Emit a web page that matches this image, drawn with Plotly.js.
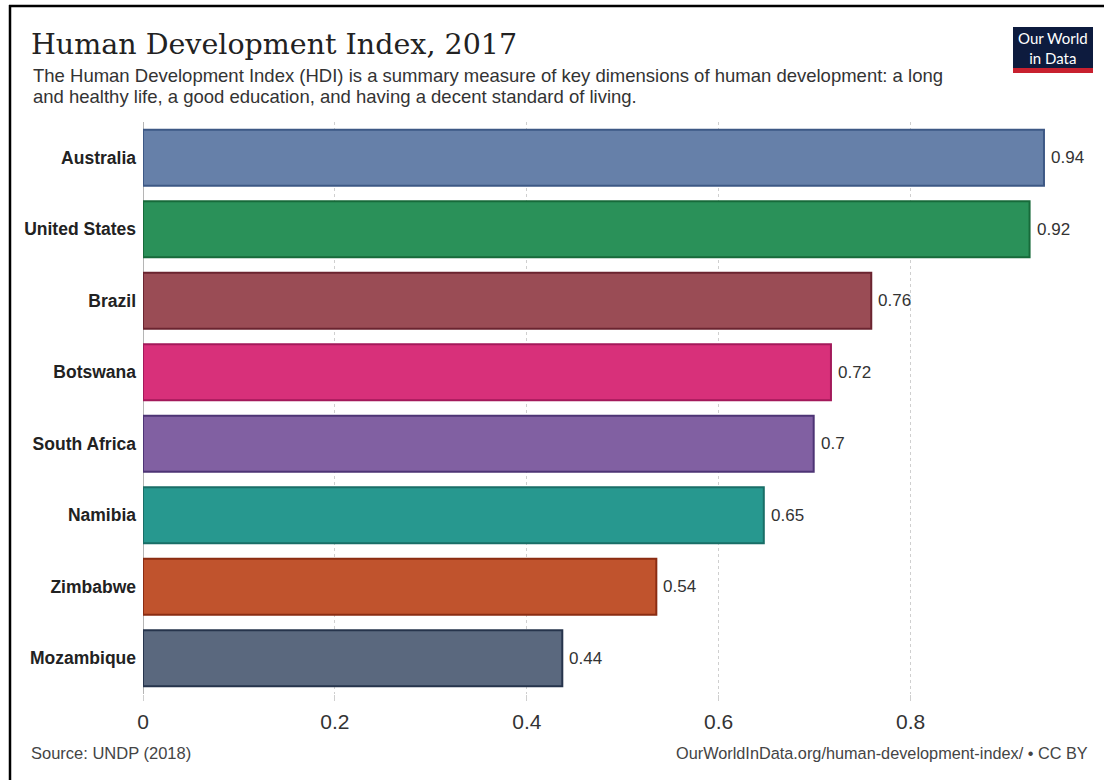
<!DOCTYPE html>
<html>
<head>
<meta charset="utf-8">
<script src="https://cdn.plot.ly/plotly-3.0.1.min.js"></script>
<style>html,body{margin:0;padding:0;background:#fff;}#chart{width:1104px;height:780px;}</style>
</head>
<body>
<div id="chart"></div>
<script>
const countries = ["Australia","United States","Brazil","Botswana","South Africa","Namibia","Zimbabwe","Mozambique"];
const hdi = [0.939,0.924,0.759,0.717,0.699,0.647,0.535,0.437];
const valueLabels = ["0.94","0.92","0.76","0.72","0.7","0.65","0.54","0.44"];
const fillColors = ["#6680a9","#2a9159","#9a4c55","#d8307a","#8160a2","#27988f","#c0532d","#5a687e"];
const lineColors = ["#3d5885","#176a3a","#6b2430","#a3195a","#4d3475","#196e67","#8a2c12","#26344c"];
const xTickVals = [0,0.2,0.4,0.6,0.8];
const xTickText = ["0","0.2","0.4","0.6","0.8"];
const subtitleLines = [
  "The Human Development Index (HDI) is a summary measure of key dimensions of human development: a long",
  "and healthy life, a good education, and having a decent standard of living."
];

// layout geometry (pixels)
const W = 1104, H = 780, mL = 143, mR = 11, mT = 122, mB = 86;
const pw = W - mL - mR, ph = H - mT - mB;
const px = x => (x - mL) / pw;
const py = y => (H - mB - y) / ph;
const sans = "Liberation Sans, Arial, sans-serif";

const trace = {
  type: "bar",
  orientation: "h",
  y: countries,
  x: hdi,
  marker: {color: fillColors, line: {color: lineColors, width: 2}},
  hoverinfo: "none"
};

const annotations = countries.map((c, i) => ({
  x: hdi[i], y: c, xref: "x", yref: "y",
  text: valueLabels[i], showarrow: false,
  xanchor: "left", yanchor: "middle", xshift: 5,
  font: {family: sans, size: 17, color: "#333"}
}));

subtitleLines.forEach((t, i) => annotations.push({
  xref: "paper", yref: "paper", x: px(31), y: py(75 + 21 * i),
  xanchor: "left", yanchor: "middle", align: "left", showarrow: false,
  text: t,
  font: {family: sans, size: 18.5, color: "#333"}
}));
annotations.push({
  xref: "paper", yref: "paper", x: px(29), y: py(753),
  xanchor: "left", yanchor: "middle", showarrow: false,
  text: "Source: UNDP (2018)",
  font: {family: sans, size: 16.5, color: "#444"}
});
annotations.push({
  xref: "paper", yref: "paper", x: px(1090), y: py(753),
  xanchor: "right", yanchor: "middle", showarrow: false,
  text: "OurWorldInData.org/human-development-index/ • CC BY",
  font: {family: sans, size: 16.3, color: "#444"}
});
annotations.push({
  xref: "paper", yref: "paper", x: px(1053), y: py(48),
  xanchor: "center", yanchor: "middle", showarrow: false, align: "center",
  text: "Our World<br>in Data",
  font: {family: "Lato, Liberation Sans, Arial, sans-serif", size: 15, color: "#fff"}
});

const shapes = [
  {type: "rect", xref: "paper", yref: "paper", x0: px(1013), x1: px(1093), y0: py(27), y1: py(73), fillcolor: "#0d1b3e", line: {width: 0}, layer: "above"},
  {type: "rect", xref: "paper", yref: "paper", x0: px(1013), x1: px(1093), y0: py(68), y1: py(73), fillcolor: "#c8202f", line: {width: 0}, layer: "above"},
  {type: "line", xref: "paper", yref: "paper", x0: px(9), x1: px(1104), y0: py(6), y1: py(6), line: {color: "#000", width: 2.5}},
  {type: "line", xref: "paper", yref: "paper", x0: px(10), x1: px(10), y0: py(5), y1: py(780), line: {color: "#000", width: 2.5}}
];

const layout = {
  width: W, height: H,
  margin: {l: mL, r: mR, t: mT, b: mB, pad: 0},
  paper_bgcolor: "#fff", plot_bgcolor: "#fff",
  showlegend: false,
  bargap: 0.22,
  title: {
    text: "Human Development Index, 2017",
    xref: "container", yref: "container",
    x: 31 / W, xanchor: "left", y: 1 - 44 / H, yanchor: "middle",
    font: {family: "DejaVu Serif, Georgia, serif", size: 28.5, color: "#222"}
  },
  xaxis: {
    range: [0, pw / 959.5],
    tickvals: xTickVals, ticktext: xTickText,
    showgrid: true, gridcolor: "#cfcfcf", griddash: "dot", gridwidth: 1,
    zeroline: true, zerolinecolor: "#b5b5b5", zerolinewidth: 1,
    ticks: "outside", ticklen: 6, tickcolor: "#cfcfcf",
    showline: false, fixedrange: true,
    ticklabelstandoff: 3,
    tickfont: {family: sans, size: 21, color: "#333"}
  },
  yaxis: {
    autorange: "reversed",
    showgrid: false, zeroline: false, showline: false, ticks: "",
    ticklabelstandoff: 6, fixedrange: true,
    tickfont: {family: sans, size: 17.5, color: "#222", weight: "bold"}
  },
  annotations: annotations,
  shapes: shapes
};

Plotly.newPlot("chart", [trace], layout, {displayModeBar: false, staticPlot: true});
</script>
</body>
</html>
